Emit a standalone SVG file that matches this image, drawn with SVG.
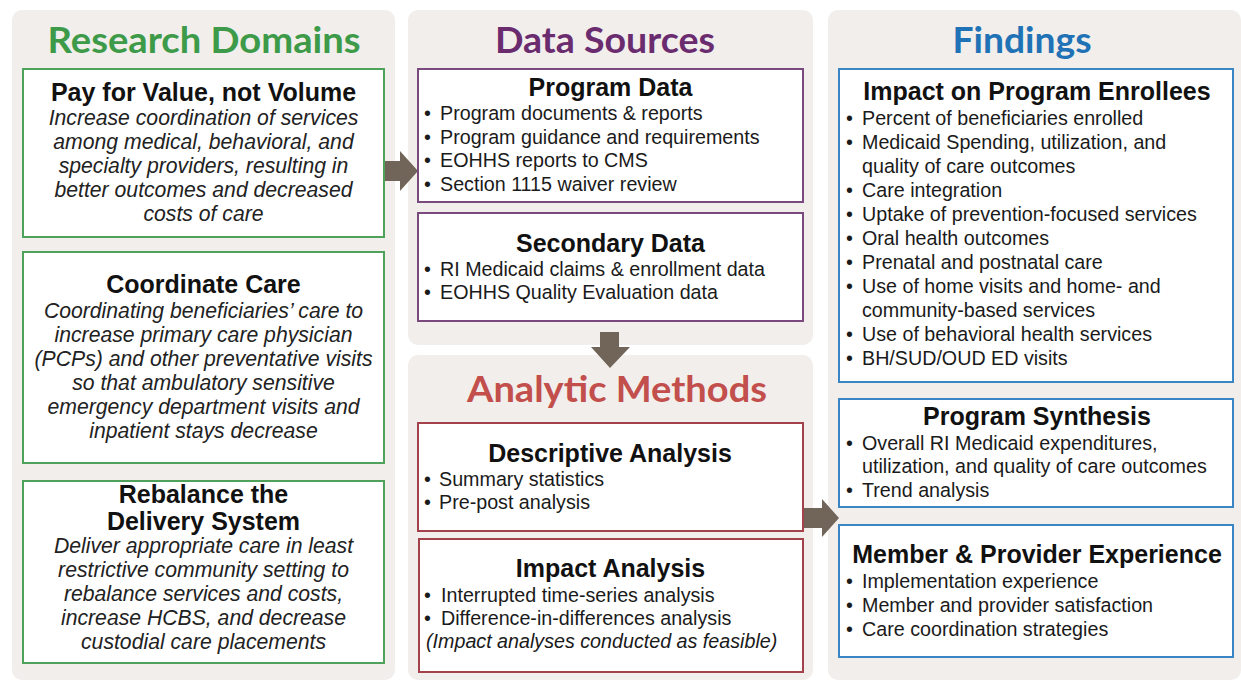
<svg xmlns="http://www.w3.org/2000/svg" width="1241" height="681" viewBox="0 0 1241 681">
<style>
.bg{fill:#ffffff}
.panel{fill:#f1eeeb}
.hdr{font-family:Lato,"Open Sans",sans-serif;font-weight:bold;font-size:37px;text-anchor:middle}
.box{fill:#ffffff;stroke-width:2}
.g{stroke:#4fa259}.p{stroke:#7a4a7e}.r{stroke:#a3424a}.bl{stroke:#3a86c4}
.t{font-family:"Liberation Sans",Arial,sans-serif;font-weight:bold;font-size:25px;text-anchor:middle;fill:#111}
.it{font-family:"Liberation Sans",Arial,sans-serif;font-style:italic;font-size:21.2px;text-anchor:middle;fill:#222}
.b{font-family:"Liberation Sans",Arial,sans-serif;font-size:19.7px;fill:#1a1a1a}
.ni{font-family:"Liberation Sans",Arial,sans-serif;font-style:italic;font-size:19.7px;fill:#1a1a1a}
.arrow{fill:#716559}
</style>
<rect class="bg" x="0" y="0" width="1241" height="681"/>
<g id="panels">
<rect class="panel" x="12" y="10" width="383" height="670" rx="10"/>
<rect class="panel" x="408" y="10" width="405" height="335" rx="10"/>
<rect class="panel" x="408" y="355" width="405" height="325" rx="10"/>
<rect class="panel" x="828" y="10" width="413" height="670" rx="10"/>
</g>
<g id="headers">
<text class="hdr" x="204" y="53" fill="#3d9a48" textLength="313" lengthAdjust="spacingAndGlyphs">Research Domains</text>
<text class="hdr" x="605" y="53" fill="#6b2c6f" textLength="220" lengthAdjust="spacingAndGlyphs">Data Sources</text>
<text class="hdr" x="1022" y="53" fill="#1f72b5" textLength="139" lengthAdjust="spacingAndGlyphs">Findings</text>
<text class="hdr" x="617" y="402" fill="#c24f4b" textLength="300" lengthAdjust="spacingAndGlyphs">Analytic Methods</text>
</g>
<g id="connectors">
<path class="arrow" d="M384,161 H400 V151 L418,171 L400,191 V181 H384 Z"/>
<path class="arrow" d="M600,332 H619 V347 H630 L610,368 L591,347 H600 Z"/>
<path class="arrow" d="M803,508 H822 V499 L839,518 L822,537 V528 H803 Z"/>
</g>
<g id="pay-for-value">
<rect class="box g" x="23" y="69" width="361" height="168"/>
<text class="t" x="203.5" y="101">Pay for Value, not Volume</text>
<text class="it" x="203.5" y="125">Increase coordination of services</text>
<text class="it" x="203.5" y="149">among medical, behavioral, and</text>
<text class="it" x="203.5" y="173">specialty providers, resulting in</text>
<text class="it" x="203.5" y="197">better outcomes and decreased</text>
<text class="it" x="203.5" y="221">costs of care</text>
</g>
<g id="coordinate-care">
<rect class="box g" x="23" y="252" width="361" height="211"/>
<text class="t" x="203.5" y="293">Coordinate Care</text>
<text class="it" x="203.5" y="318">Coordinating beneficiaries’ care to</text>
<text class="it" x="203.5" y="342">increase primary care physician</text>
<text class="it" x="203.5" y="366">(PCPs) and other preventative visits</text>
<text class="it" x="203.5" y="390">so that ambulatory sensitive</text>
<text class="it" x="203.5" y="414">emergency department visits and</text>
<text class="it" x="203.5" y="438">inpatient stays decrease</text>
</g>
<g id="rebalance">
<rect class="box g" x="23" y="481" width="361" height="182"/>
<text class="t" x="203.5" y="503"><tspan x="203.5" y="503">Rebalance the</tspan><tspan x="203.5" y="530">Delivery System</tspan></text>
<text class="it" x="203.5" y="553">Deliver appropriate care in least</text>
<text class="it" x="203.5" y="577">restrictive community setting to</text>
<text class="it" x="203.5" y="601">rebalance services and costs,</text>
<text class="it" x="203.5" y="625">increase HCBS, and decrease</text>
<text class="it" x="203.5" y="649">custodial care placements</text>
</g>
<g id="program-data">
<rect class="box p" x="418" y="69" width="385" height="133"/>
<text class="t" x="610.5" y="96">Program Data</text>
<text class="b" x="424" y="120">•</text><text class="b" x="440" y="120">Program documents &amp; reports</text>
<text class="b" x="424" y="144">•</text><text class="b" x="440" y="144">Program guidance and requirements</text>
<text class="b" x="424" y="167">•</text><text class="b" x="440" y="167">EOHHS reports to CMS</text>
<text class="b" x="424" y="191">•</text><text class="b" x="440" y="191">Section 1115 waiver review</text>
</g>
<g id="secondary-data">
<rect class="box p" x="418" y="213" width="385" height="108"/>
<text class="t" x="610.5" y="252">Secondary Data</text>
<text class="b" x="424" y="276">•</text><text class="b" x="440" y="276">RI Medicaid claims &amp; enrollment data</text>
<text class="b" x="424" y="299">•</text><text class="b" x="440" y="299">EOHHS Quality Evaluation data</text>
</g>
<g id="descriptive-analysis">
<rect class="box r" x="418" y="423" width="385" height="108"/>
<text class="t" x="610" y="462">Descriptive Analysis</text>
<text class="b" x="424" y="486">•</text><text class="b" x="439" y="486">Summary statistics</text>
<text class="b" x="424" y="509">•</text><text class="b" x="439" y="509">Pre-post analysis</text>
</g>
<g id="impact-analysis">
<rect class="box r" x="419" y="539" width="384" height="133"/>
<text class="t" x="610.5" y="577">Impact Analysis</text>
<text class="b" x="424" y="602">•</text><text class="b" x="441" y="602">Interrupted time-series analysis</text>
<text class="b" x="424" y="625">•</text><text class="b" x="441" y="625">Difference-in-differences analysis</text>
<text class="ni" x="426" y="648">(Impact analyses conducted as feasible)</text>
</g>
<g id="impact-enrollees">
<rect class="box bl" x="839" y="69" width="394" height="313"/>
<text class="t" x="1037" y="100">Impact on Program Enrollees</text>
<text class="b" x="846" y="125">•</text><text class="b" x="862" y="125">Percent of beneficiaries enrolled</text>
<text class="b" x="846" y="149">•</text><text class="b" x="862" y="149">Medicaid Spending, utilization, and</text>
<text class="b" x="862" y="173">quality of care outcomes</text>
<text class="b" x="846" y="197">•</text><text class="b" x="862" y="197">Care integration</text>
<text class="b" x="846" y="221">•</text><text class="b" x="862" y="221">Uptake of prevention-focused services</text>
<text class="b" x="846" y="245">•</text><text class="b" x="862" y="245">Oral health outcomes</text>
<text class="b" x="846" y="269">•</text><text class="b" x="862" y="269">Prenatal and postnatal care</text>
<text class="b" x="846" y="293">•</text><text class="b" x="862" y="293">Use of home visits and home- and</text>
<text class="b" x="862" y="317">community-based services</text>
<text class="b" x="846" y="341">•</text><text class="b" x="862" y="341">Use of behavioral health services</text>
<text class="b" x="846" y="365">•</text><text class="b" x="862" y="365">BH/SUD/OUD ED visits</text>
</g>
<g id="program-synthesis">
<rect class="box bl" x="839" y="399" width="394" height="108"/>
<text class="t" x="1037" y="425">Program Synthesis</text>
<text class="b" x="846" y="450">•</text><text class="b" x="862" y="450">Overall RI Medicaid expenditures,</text>
<text class="b" x="862" y="473">utilization, and quality of care outcomes</text>
<text class="b" x="846" y="497">•</text><text class="b" x="862" y="497">Trend analysis</text>
</g>
<g id="member-provider">
<rect class="box bl" x="839" y="525" width="394" height="132"/>
<text class="t" x="1037" y="563">Member &amp; Provider Experience</text>
<text class="b" x="846" y="588">•</text><text class="b" x="862" y="588">Implementation experience</text>
<text class="b" x="846" y="612">•</text><text class="b" x="862" y="612">Member and provider satisfaction</text>
<text class="b" x="846" y="636">•</text><text class="b" x="862" y="636">Care coordination strategies</text>
</g>
</svg>
